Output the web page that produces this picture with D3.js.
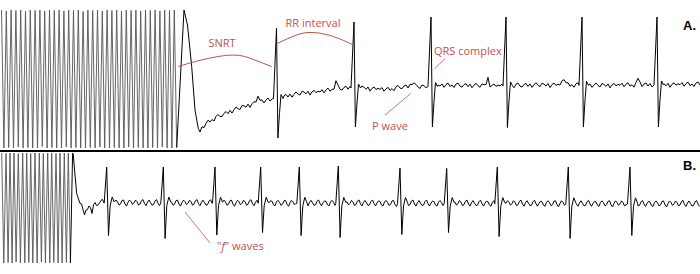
<!DOCTYPE html>
<html>
<head>
<meta charset="utf-8">
<script src="https://cdn.jsdelivr.net/npm/d3@7"></script>
<style>
  body { margin: 0; background: #fff; }
  svg { display: block; }
  .note { font-family: "Open Sans", sans-serif; font-size: 11px; fill: #c0504d; }
  .panel { font-family: "Liberation Sans", Arial, sans-serif; font-size: 13px; font-weight: bold; fill: #000; }
</style>
</head>
<body>
<div id="chart"></div>
<script>
// time in ms, amplitude in mV
// --- panel A: overdrive pacing, then sinus recovery ---
var pacingA = [[15,1.60,-1.16],[63,1.58,-1.15],[111,1.60,-1.16],[159,1.59,-1.14],[207,1.60,-1.16],
  [255,1.57,-1.15],[303,1.60,-1.16],[351,1.59,-1.16],[399,1.60,-1.13],[447,1.58,-1.16],[495,1.60,-1.15],
  [543,1.59,-1.16],[591,1.60,-1.16],[639,1.58,-1.14],[687,1.60,-1.16],[735,1.59,-1.15],[783,1.60,-1.16],
  [831,1.57,-1.16],[879,1.60,-1.15],[927,1.59,-1.16],[975,1.60,-1.14],[1023,1.58,-1.16],[1071,1.60,-1.16],
  [1119,1.59,-1.15],[1167,1.60,-1.16],[1215,1.58,-1.16],[1263,1.60,-1.14],[1311,1.59,-1.16],[1359,1.60,-1.15],
  [1407,1.58,-1.16],[1455,1.60,-1.16],[1503,1.59,-1.15],[1551,1.60,-1.16],[1599,1.58,-1.14],[1647,1.60,-1.16],
  [1695,1.59,-1.16],[1743,1.60,-1.15]];
var descentA = [[1840,1.60],[1875,1.30],[1917,0.47],[1950,-0.40],[1983,-0.77]];
var knotsA = [[2000,-0.84],[2030,-0.74],[2100,-0.62],[2200,-0.52],[2370,-0.38],[2530,-0.28],[2700,-0.20],
  [2830,-0.14],[3030,-0.06],[3200,-0.04],[3370,0.02],[3500,0.04],[3620,0.04],[3870,0.00],[4030,0.06],
  [4200,0.06],[4500,0.09],[5000,0.08],[5500,0.10],[6000,0.09],[6500,0.10],[7000,0.11]];
var textureA = [0.00,0.04,-0.03,0.02,0.05,-0.02,0.01,-0.04,0.03,0.05,-0.01,-0.03,0.02,0.04,-0.02,
  0.03,-0.04,0.01,0.05,0.00,-0.03,0.04,0.02,-0.02,0.03,-0.05,0.01,0.04,-0.01,0.02];
var beatsA = [2765, 3540, 4310, 5060, 5820, 6570];
var peaksA = [1.24, 1.36, 1.46, 1.46, 1.46, 1.46];
var troughsA = [-0.96, -0.74, -0.74, -0.75, -0.74, -0.74];
var qrsA = [[-30,0],[0,"peak"],[14,"trough"],[30,-0.30],[45,0.08],[65,0]];
var pWaveA = [[-220,0],[-195,0.06],[-180,0.14],[-165,0.04],[-150,0]];

// --- panel B: pacing, then atrial fibrillation ---
var pacingB = [[17,1.00,-1.20],[60,0.99,-1.19],[100,1.00,-1.20],[140,1.00,-1.18],[183,0.99,-1.20],
  [227,1.00,-1.20],[267,1.00,-1.19],[307,0.99,-1.20],[350,1.00,-1.20],[393,1.00,-1.18],[433,0.99,-1.20],
  [477,1.00,-1.20],[517,1.00,-1.19],[560,0.99,-1.20],[600,1.00,-1.20],[643,1.00,-1.19],[683,1.00,-1.20]];
var descentB = [[726,1.00],[733,0.96],[750,0.56],[767,0.19]];
var knotsB = [[800,-0.01],[820,-0.10],[840,-0.22],[860,-0.12],[880,-0.20],[900,-0.06],[920,-0.16],
  [940,-0.02],[960,-0.08],[990,0.04],[1020,0.00],[7000,-0.02]];
var textureB = [0.00,0.06,0.03,-0.04,-0.02,0.05,0.07,-0.01,-0.05,0.02,0.06,0.01,-0.04,-0.03,0.04,0.07,
  0.00,-0.05,0.01,0.05,0.04,-0.03,-0.05,0.03,0.06,0.02,-0.04,-0.02,0.05,0.06,-0.02,-0.06,0.01,0.06,0.03,-0.03];
var beatsB = [1067, 1633, 2150, 2607, 2993, 3383, 4000, 4467, 4973, 5683, 6300];
var peaksB = [0.72, 0.72, 0.72, 0.72, 0.72, 0.74, 0.70, 0.69, 0.72, 0.72, 0.72];
var troughsB = [-0.65, -0.71, -0.64, -0.59, -0.65, -0.69, -0.63, -0.59, -0.67, -0.71, -0.65];
var qrsB = [[-25,0],[0,"peak"],[18,"trough"],[35,-0.05],[55,0.12],[75,0.02]];

// annotations (time, mV)
var snrtArc = [[1783,0.47],[2033,0.61],[2333,0.70],[2533,0.61],[2717,0.47]];
var rrArc = [[2773,0.93],[2967,1.10],[3133,1.15],[3333,1.07],[3533,0.90]];
var pLeader = [[4107,-0.07],[3850,-0.50]];
var qrsLeader = [[4450,0.63],[4343,0.42]];
var fLeader = [[1850,-0.18],[2100,-0.80]];
var labelsA = [{t: 2220, v: 0.86, text: "SNRT", anchor: "middle"},
  {t: 3130, v: 1.26, text: "RR interval", anchor: "middle"},
  {t: 3900, v: -0.80, text: "P wave", anchor: "middle"},
  {t: 4340, v: 0.70, text: "QRS complex", anchor: "start"}];

var width = 700, height = 274;
var svg = d3.select("#chart").append("svg")
  .attr("width", width).attr("height", height);

var x = d3.scaleLinear().domain([0, 7000]).range([0, 700]);
var yA = d3.scaleLinear().domain([-1.2, 1.6]).range([150, 10]);
var yB = d3.scaleLinear().domain([-1.2, 1.0]).range([263, 153]);

// assemble one trace from pacing, recovery knots, texture and beats
function buildTrace(o) {
  var pacing = [], pts = [];
  o.pacing.forEach(function(p) {
    pacing.push([p[0], p[1]]);
    pacing.push([p[0] + o.half, p[2]]);
  });
  // the recovery part starts where pacing ends
  pts.push(pacing[pacing.length - 1]);
  o.descent.forEach(function(d) { pts.push(d); });

  var trend = d3.scaleLinear().domain(o.knots.map(d => d[0])).range(o.knots.map(d => d[1])).clamp(true);
  var pw = o.pwave ? d3.scaleLinear().domain(o.pwave.map(d => d[0])).range(o.pwave.map(d => d[1])).clamp(true) : null;
  var q0 = o.qrs[0][0], q1 = o.qrs[o.qrs.length - 1][0];

  var k = 0;
  for (var t = o.knots[0][0]; t <= 7000; t += o.step, k++) {
    var inQrs = o.beats.some(b => t >= b + q0 && t <= b + q1);
    if (inQrs) continue;
    var v = trend(t) + o.texture[k % o.texture.length];
    if (pw) o.beats.forEach(function(b) { v += pw(t - b); });
    pts.push([t, v]);
  }

  o.beats.forEach(function(b, i) {
    var base = trend(b);
    o.qrs.forEach(function(q) {
      var val = q[1] === "peak" ? o.peaks[i] : (q[1] === "trough" ? o.troughs[i] : base + q[1]);
      pts.push([b + q[0], val]);
    });
  });
  pts.sort((a, b) => a[0] - b[0]);
  return {pacing: pacing, rest: pts};
}

var traceA = buildTrace({pacing: pacingA, half: 24, descent: descentA, knots: knotsA, step: 20,
  texture: textureA, beats: beatsA, peaks: peaksA, troughs: troughsA, qrs: qrsA, pwave: pWaveA});
var traceB = buildTrace({pacing: pacingB, half: 21, descent: descentB, knots: knotsB, step: 15,
  texture: textureB, beats: beatsB, peaks: peaksB, troughs: troughsB, qrs: qrsB, pwave: null});

var lineA = d3.line().x(d => x(d[0])).y(d => yA(d[1]));
var lineB = d3.line().x(d => x(d[0])).y(d => yB(d[1]));

// pacing strokes look lighter in the print
[[lineA, traceA], [lineB, traceB]].forEach(function(p) {
  svg.append("path").attr("d", p[0](p[1].pacing))
    .attr("fill", "none").attr("stroke", "#555").attr("stroke-width", 0.9);
  svg.append("path").attr("d", p[0](p[1].rest))
    .attr("fill", "none").attr("stroke", "#000").attr("stroke-width", 1);
});

// divider between the two strips
svg.append("line")
  .attr("x1", 0).attr("x2", width)
  .attr("y1", 151).attr("y2", 151)
  .attr("stroke", "#000").attr("stroke-width", 2);

// red annotations
var arcA = d3.line().x(d => x(d[0])).y(d => yA(d[1])).curve(d3.curveNatural);
[snrtArc, rrArc].forEach(function(a) {
  svg.append("path").attr("d", arcA(a))
    .attr("fill", "none").attr("stroke", "#c0504d").attr("stroke-width", 1);
});
[pLeader, qrsLeader].forEach(function(a) {
  svg.append("path").attr("d", lineA(a))
    .attr("fill", "none").attr("stroke", "#c0504d").attr("stroke-width", 0.8);
});
svg.append("path").attr("d", lineB(fLeader))
  .attr("fill", "none").attr("stroke", "#c0504d").attr("stroke-width", 0.8);

labelsA.forEach(function(l) {
  svg.append("text").attr("class", "note")
    .attr("x", x(l.t)).attr("y", yA(l.v))
    .attr("text-anchor", l.anchor)
    .text(l.text);
});

var fText = svg.append("text").attr("class", "note")
  .attr("x", x(2170)).attr("y", yB(-0.94));
fText.append("tspan").text("\"");
fText.append("tspan").attr("font-style", "italic").text("f");
fText.append("tspan").text("\" waves");

svg.append("text").attr("class", "panel")
  .attr("x", x(6830)).attr("y", yA(1.2)).text("A.");
svg.append("text").attr("class", "panel")
  .attr("x", x(6830)).attr("y", yB(0.66)).text("B.");
</script>
</body>
</html>
